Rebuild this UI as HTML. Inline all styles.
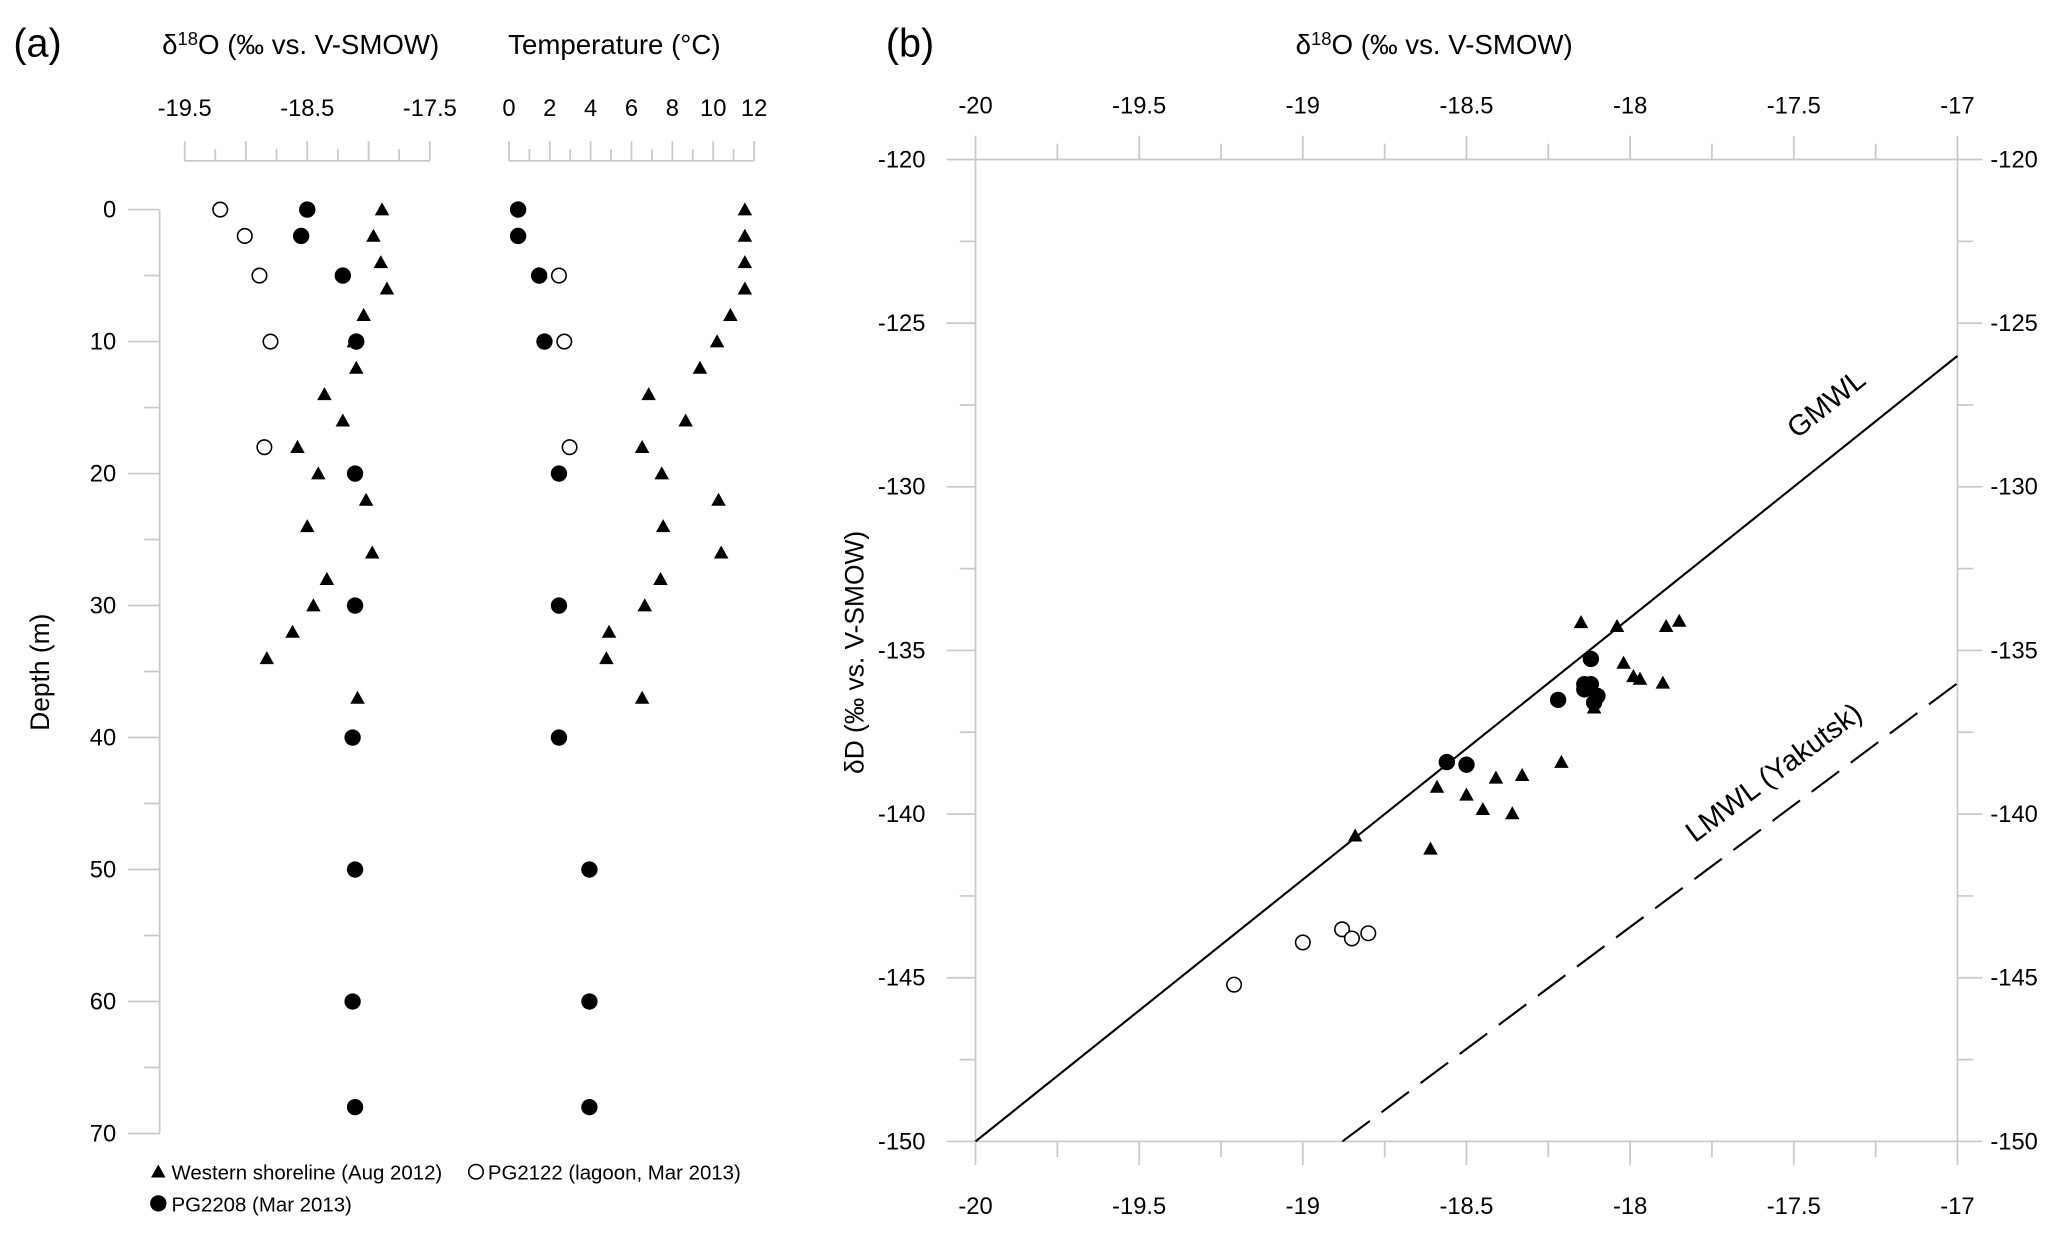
<!DOCTYPE html>
<html><head><meta charset="utf-8"><style>
html,body{margin:0;padding:0;background:#fff;}
svg{display:block;font-family:"Liberation Sans",sans-serif;}
</style></head><body>
<svg id="fig" width="2067" height="1235" viewBox="0 0 1568 937" xmlns="http://www.w3.org/2000/svg">
<g id="static" fill="#000">
<text x="10" y="43" font-size="30">(a)</text>
<text x="672" y="43" font-size="30">(b)</text>
<text x="228" y="41" font-size="21" text-anchor="middle">δ<tspan font-size="14" dy="-7">18</tspan><tspan dy="7">O (‰ vs. V-SMOW)</tspan></text>
<text x="466" y="41" font-size="21" text-anchor="middle">Temperature (°C)</text>
<text x="1088" y="41" font-size="21" text-anchor="middle">δ<tspan font-size="14" dy="-7">18</tspan><tspan dy="7">O (‰ vs. V-SMOW)</tspan></text>
<text transform="translate(37,510) rotate(-90)" font-size="20" text-anchor="middle">Depth (m)</text>
<text transform="translate(655,495) rotate(-90)" font-size="20" text-anchor="middle">δD (‰ vs. V-SMOW)</text>
</g>
<g id="axes" stroke="#c8c8c8" stroke-width="1.3" fill="none"></g>
<g id="labels" font-size="18" fill="#000"></g>
<g id="lines"></g>
<g id="marks"></g>
<g id="legend" font-size="15.5"></g>
</svg>
<script>
// Panel a data
const depthTri = [0,2,4,6,8,10,12,14,16,18,20,22,24,26,28,30,32,34,37];
const d18oTri = [-17.89,-17.96,-17.90,-17.85,-18.04,-18.12,-18.10,-18.36,-18.21,-18.58,-18.41,-18.02,-18.50,-17.97,-18.34,-18.45,-18.62,-18.83,-18.09];
const tempTri = [11.55,11.55,11.55,11.55,10.84,10.19,9.35,6.84,8.65,6.52,7.48,10.26,7.55,10.39,7.42,6.65,4.90,4.77,6.52];
const depthFilled = [0,2,5,10,20,30,40,50,60,68];
const d18oFilled = [-18.50,-18.55,-18.21,-18.10,-18.11,-18.11,-18.13,-18.11,-18.13,-18.11];
const tempFilled = [0.45,0.45,1.48,1.74,2.45,2.45,2.45,3.94,3.94,3.94];
const depthOpen = [0,2,5,10,18];
const d18oOpen = [-19.21,-19.01,-18.89,-18.80,-18.85];
const depthOpenT = [5,10,18];
const tempOpen = [2.45,2.71,2.97];
const d18oTicks = ["-19.5","-18.5","-17.5"];
const tempTicks = ["0","2","4","6","8","10","12"];
const depthTicks = ["0","10","20","30","40","50","60","70"];
// Panel b data
const bTriX = [-18.15,-18.04,-17.89,-17.85,-18.02,-17.99,-17.97,-17.90,-18.11,-18.21,-18.59,-18.50,-18.41,-18.33,-18.45,-18.36,-18.84,-18.61];
const bTriY = [-134.14,-134.26,-134.26,-134.10,-135.38,-135.79,-135.87,-135.99,-136.75,-138.41,-139.17,-139.41,-138.89,-138.81,-139.85,-139.98,-140.66,-141.06];
const bFillX = [-18.56,-18.50,-18.22,-18.12,-18.14,-18.14,-18.12,-18.10,-18.11];
const bFillY = [-138.41,-138.49,-136.51,-135.26,-136.03,-136.19,-136.03,-136.39,-136.59];
const bOpenX = [-19.21,-19.00,-18.88,-18.85,-18.80];
const bOpenY = [-145.21,-143.92,-143.52,-143.80,-143.64];
const bXTicks = ["-20","-19.5","-19","-18.5","-18","-17.5","-17"];
const bYTicks = ["-120","-125","-130","-135","-140","-145","-150"];
const gmwl = [8, 10];
const lmwl = [7.45, -9.35];

const NS="http://www.w3.org/2000/svg";
function mk(tag, attrs, parent){const e=document.createElementNS(NS,tag);for(const k in attrs)e.setAttribute(k,attrs[k]);parent.appendChild(e);return e;}
const axes=document.getElementById('axes'), labels=document.getElementById('labels'), lines=document.getElementById('lines'), marks=document.getElementById('marks'), legend=document.getElementById('legend');
const xa=v=>140+(v+19.5)*93;
const xt=v=>386+v*15.5;
const yd=v=>159+v*(701/70);
const xb=v=>740+(v+20)*(745/3);
const yb=v=>121+(-120-v)*(745/30);

function line(x1,y1,x2,y2,p,name){const l=mk('line',{x1,y1,x2,y2},p);

return l;}
function text(x,y,s,anchor,p,name){const t=mk('text',{x,y,'text-anchor':anchor},p);t.textContent=s;

return t;}
function tri(x,y,p,name){const s=5.5;const t=mk('polygon',{points:`${x},${y-s} ${x-s},${y+s*0.8} ${x+s},${y+s*0.8}`,fill:'#000'},p);

}
function circ(x,y,filled,p,name){const c=mk('circle',{cx:x,cy:y,r:filled?6.2:5.5,fill:filled?'#000':'#fff',stroke:'#000','stroke-width':filled?0:1.2},p);

}

// Panel a axes
line(140,122,326,122,axes,'d18o-top-axis');
for(let i=0;i<=8;i++){const v=-19.5+i*0.25;line(xa(v),i%2?113:107,xa(v),122,axes,'d18o-tick');}
d18oTicks.forEach(s=>text(xa(+s),88,s,'middle',labels,'d18o-tick-label'));
line(386,122,572,122,axes,'temp-top-axis');
for(let i=0;i<=12;i++){line(xt(i),i%2?113:107,xt(i),122,axes,'temp-tick');}
tempTicks.forEach(s=>text(xt(+s),88,s,'middle',labels,'temp-tick-label'));
line(121,159,121,860,axes,'depth-axis');
for(let i=0;i<=14;i++){line(i%2?109:97,yd(i*5),121,yd(i*5),axes,'depth-tick');}
depthTicks.forEach(s=>text(88,yd(+s)+6,s,'end',labels,'depth-tick-label'));

depthTri.forEach((d,i)=>tri(xa(d18oTri[i]),yd(d),marks,'shoreline-d18o-point'));
depthTri.forEach((d,i)=>tri(xt(tempTri[i]),yd(d),marks,'shoreline-temp-point'));
depthOpen.forEach((d,i)=>circ(xa(d18oOpen[i]),yd(d),false,marks,'pg2122-d18o-point'));
depthOpenT.forEach((d,i)=>circ(xt(tempOpen[i]),yd(d),false,marks,'pg2122-temp-point'));
depthFilled.forEach((d,i)=>circ(xa(d18oFilled[i]),yd(d),true,marks,'pg2208-d18o-point'));
depthFilled.forEach((d,i)=>circ(xt(tempFilled[i]),yd(d),true,marks,'pg2208-temp-point'));

// Legend
tri(120,889,legend,'legend-shoreline-marker');
text(130,895,'Western shoreline (Aug 2012)','start',legend,'legend-shoreline');
circ(361,889,false,legend,'legend-pg2122-marker');
text(370,895,'PG2122 (lagoon, Mar 2013)','start',legend,'legend-pg2122');
circ(120,913,true,legend,'legend-pg2208-marker');
text(130,919,'PG2208 (Mar 2013)','start',legend,'legend-pg2208');

// Panel b axes
line(740,121,1485,121,axes,'b-top-axis');
line(740,866,1485,866,axes,'b-bottom-axis');
line(740,121,740,866,axes,'b-left-axis');
line(1485,121,1485,866,axes,'b-right-axis');
for(let i=0;i<=12;i++){const v=-20+i*0.25;const X=xb(v);
line(X,i%2?109:103,X,121,axes,'b-top-tick');line(X,866,X,i%2?878:884,axes,'b-bottom-tick');}
bXTicks.forEach(s=>{text(xb(+s),86,s,'middle',labels,'b-top-tick-label');text(xb(+s),921,s,'middle',labels,'b-bottom-tick-label');});
for(let i=0;i<=12;i++){const v=-120-i*2.5;const Y=yb(v);
line(i%2?728:718,Y,740,Y,axes,'b-left-tick');line(1485,Y,i%2?1497:1504,Y,axes,'b-right-tick');}
bYTicks.forEach(s=>{text(702,yb(+s)+6,s,'end',labels,'b-left-tick-label');text(1510,yb(+s)+6,s,'start',labels,'b-right-tick-label');});

// Water lines
const g1=line(xb(-20),yb(gmwl[0]*-20+gmwl[1]),xb(-17),yb(gmwl[0]*-17+gmwl[1]),lines,'gmwl-line');
g1.setAttribute('stroke','#000');g1.setAttribute('stroke-width','1.6');
const x0=(-150-lmwl[1])/lmwl[0];
const g2=line(xb(x0),yb(-150),xb(-17),yb(lmwl[0]*-17+lmwl[1]),lines,'lmwl-line');
g2.setAttribute('stroke','#000');g2.setAttribute('stroke-width','1.6');g2.setAttribute('stroke-dasharray','26 11');
const a1=-Math.atan2(8*745/30,745/3)*180/Math.PI;
const t1=text(0,0,'GMWL','middle',lines,'gmwl-label');t1.setAttribute('font-size','22');
t1.setAttribute('transform',`translate(1390,312) rotate(${a1})`);
const a2=-Math.atan2(lmwl[0]*745/30,745/3)*180/Math.PI;
const t2=text(0,0,'LMWL (Yakutsk)','middle',lines,'lmwl-label');t2.setAttribute('font-size','22');
t2.setAttribute('transform',`translate(1350,592) rotate(${a2})`);

bTriX.forEach((v,i)=>tri(xb(v),yb(bTriY[i]),marks,'b-shoreline-point'));
bOpenX.forEach((v,i)=>circ(xb(v),yb(bOpenY[i]),false,marks,'b-pg2122-point'));
bFillX.forEach((v,i)=>circ(xb(v),yb(bFillY[i]),true,marks,'b-pg2208-point'));
</script>
</body></html>
